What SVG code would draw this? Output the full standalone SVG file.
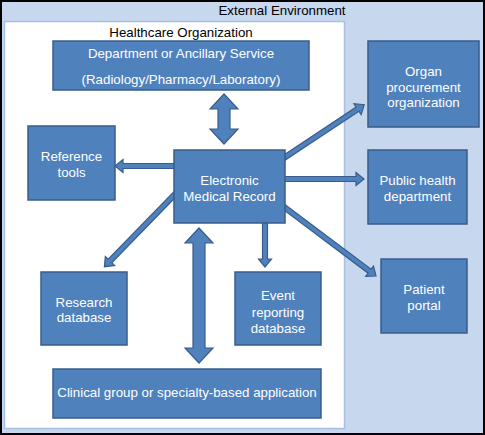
<svg xmlns="http://www.w3.org/2000/svg" width="485" height="435" viewBox="0 0 485 435">
<style>
.box{fill:#4f81bd;stroke:#385d8a;stroke-width:1.5}
.t{font-family:"Liberation Sans",Arial,sans-serif;font-size:13.3px;fill:#fff;text-anchor:middle}
.h{font-family:"Liberation Sans",Arial,sans-serif;font-size:13.3px;fill:#000;text-anchor:middle}
.ar{fill:#4f81bd;stroke:#385d8a;stroke-width:1.2;stroke-linejoin:miter}
</style>
<g id="external">
<rect x="1" y="1" width="483" height="433" fill="#c6d7ee" stroke="#000" stroke-width="2"/>
<text class="h" x="282" y="15">External Environment</text>
</g>
<g id="healthcare">
<rect x="4.5" y="21.5" width="340" height="407" fill="#fff" stroke="#a8c0e2" stroke-width="1.5"/>
<text class="h" x="181" y="37">Healthcare Organization</text>
</g>
<g id="connectors">
<polygon class="ar" points="224,94 238,109 230,109 230,129 238,129 224,144 210,129 218,129 218,109 210,109"/>
<polygon class="ar" points="199,228 213,243 205,243 205,348 213,348 199,363 185,348 193,348 193,243 185,243"/>
<g transform="translate(180,166) rotate(180)"><path class="ar" d="M0,-2.5 H57 V-6.5 L65,0 L57,6.5 V2.5 H0 Z"/></g>
<g transform="translate(280,179)"><path class="ar" d="M0,-2.5 H76 V-6.5 L84,0 L76,6.5 V2.5 H0 Z"/></g>
<g transform="translate(265,218) rotate(90)"><path class="ar" d="M0,-2.5 H41 V-6.5 L49,0 L41,6.5 V2.5 H0 Z"/></g>
<g transform="translate(280,160.5) rotate(-33.5)"><path class="ar" d="M0,-2.5 H93 V-6.5 L101,0 L93,6.5 V2.5 H0 Z"/></g>
<g transform="translate(280,204) rotate(36.87)"><path class="ar" d="M0,-2.5 H112 V-6.5 L120,0 L112,6.5 V2.5 H0 Z"/></g>
<g transform="translate(179,190) rotate(134.2)"><path class="ar" d="M0,-2.5 H99 V-6.5 L107,0 L99,6.5 V2.5 H0 Z"/></g>
</g>
<g id="dept">
<rect class="box" x="53" y="41" width="256" height="49"/>
<text class="t" x="181" y="58">Department or Ancillary Service</text>
<text class="t" x="181" y="84">(Radiology/Pharmacy/Laboratory)</text>
</g>
<g id="organ">
<rect class="box" x="368" y="41" width="111" height="86"/>
<text class="t" x="423.5" y="76">Organ</text>
<text class="t" x="423.5" y="92">procurement</text>
<text class="t" x="423.5" y="107">organization</text>
</g>
<g id="reference">
<rect class="box" x="28" y="126" width="87" height="74"/>
<text class="t" x="71.5" y="161">Reference</text>
<text class="t" x="71.5" y="177">tools</text>
</g>
<g id="emr">
<rect class="box" x="174" y="150" width="111" height="73"/>
<text class="t" x="229.5" y="185">Electronic</text>
<text class="t" x="229.5" y="201">Medical Record</text>
</g>
<g id="public">
<rect class="box" x="368" y="150" width="99" height="74"/>
<text class="t" x="417.5" y="185">Public health</text>
<text class="t" x="417.5" y="201">department</text>
</g>
<g id="patient">
<rect class="box" x="381" y="259" width="86" height="74"/>
<text class="t" x="424" y="294">Patient</text>
<text class="t" x="424" y="310">portal</text>
</g>
<g id="research">
<rect class="box" x="41" y="272" width="86" height="73"/>
<text class="t" x="84" y="307">Research</text>
<text class="t" x="84" y="322">database</text>
</g>
<g id="event">
<rect class="box" x="235" y="272" width="86" height="73"/>
<text class="t" x="278" y="300">Event</text>
<text class="t" x="278" y="317">reporting</text>
<text class="t" x="278" y="333">database</text>
</g>
<g id="clinical">
<rect class="box" x="53" y="369" width="268" height="49"/>
<text class="t" x="187" y="397">Clinical group or specialty-based application</text>
</g>
</svg>
